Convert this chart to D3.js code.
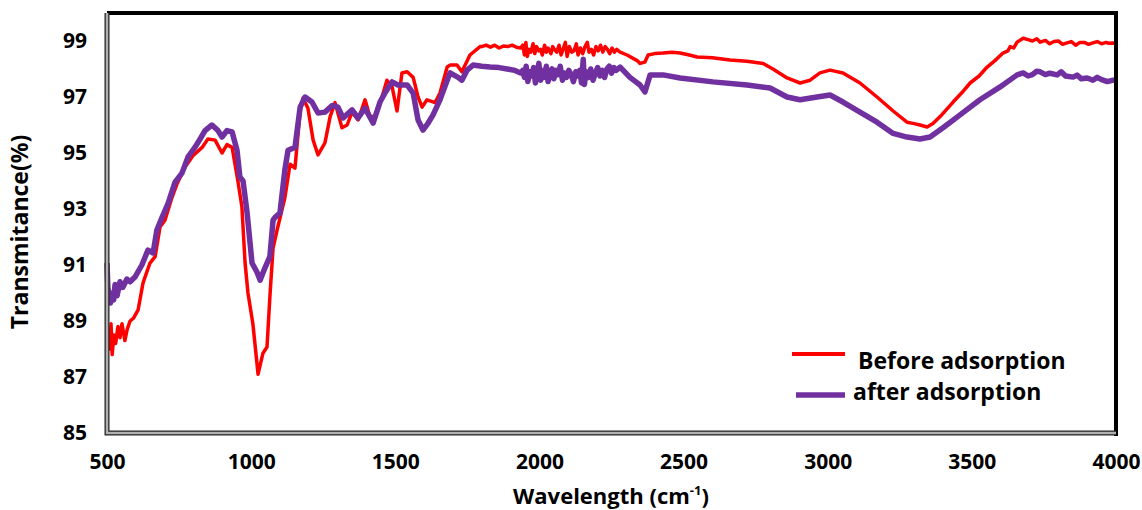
<!DOCTYPE html>
<html>
<head>
<meta charset="utf-8">
<script src="https://cdn.jsdelivr.net/npm/d3@7"></script>
<style>
  body { margin: 0; background: #fff; }
  text { font-family: "Open Sans", sans-serif; font-weight: bold; fill: #000; }
</style>
</head>
<body>
<svg id="chart" width="1142" height="510"></svg>
<script>
// wavenumber (cm-1), transmittance (%)
var before = [
  [500, 88.1], [505, 88.6], [510, 88.0], [514, 88.9], [518, 87.8], [524, 88.5], [530, 88.2],
  [538, 88.8], [545, 88.4], [552, 88.9], [562, 88.3], [570, 88.7], [580, 89.0], [592, 89.1],
  [608, 89.4], [625, 90.36], [649, 91.07], [667, 91.3], [684, 92.36], [701, 92.6], [725, 93.4],
  [743, 93.9], [771, 94.5], [798, 94.9], [830, 95.2], [850, 95.5], [875, 95.46], [899, 95.0],
  [916, 95.3], [934, 95.2], [954, 94.0], [968, 93.07], [979, 91.07], [989, 90.0], [1006, 88.9],
  [1024, 87.1], [1041, 87.85], [1055, 88.07], [1065, 89.86], [1076, 91.6], [1090, 92.25],
  [1117, 93.4], [1135, 94.6], [1152, 94.46], [1170, 96.5], [1180, 96.96], [1197, 96.6],
  [1215, 95.46], [1232, 94.93], [1256, 95.36], [1274, 96.3], [1291, 96.8], [1315, 95.9],
  [1333, 96.0], [1350, 96.46], [1371, 96.18], [1395, 96.9], [1412, 96.3], [1430, 96.3],
  [1454, 97.0], [1471, 97.6], [1489, 97.36], [1506, 96.5], [1523, 97.86], [1541, 97.9],
  [1562, 97.7], [1579, 97.0], [1593, 96.64], [1610, 96.9], [1638, 96.8], [1655, 97.14],
  [1680, 98.07], [1690, 98.14], [1714, 98.14], [1731, 97.9], [1759, 98.5], [1794, 98.8],
  [1800, 98.8], [1815, 98.85], [1830, 98.78], [1845, 98.85], [1860, 98.75], [1875, 98.82],
  [1890, 98.8], [1905, 98.85], [1920, 98.78], [1935, 98.75],
  [1942, 98.85], [1948, 98.5], [1953, 98.95], [1958, 98.45], [1964, 98.7], [1970, 98.6],
  [1978, 98.9], [1984, 98.55], [1990, 98.8], [1998, 98.65], [2004, 98.7], [2010, 98.5],
  [2018, 98.85], [2024, 98.6], [2030, 98.75], [2040, 98.55], [2046, 98.8], [2052, 98.7],
  [2060, 98.6], [2068, 98.85], [2075, 98.5], [2082, 98.7], [2090, 98.95], [2096, 98.45],
  [2104, 98.8], [2112, 98.6], [2120, 98.65], [2128, 98.9], [2134, 98.5], [2142, 98.75],
  [2150, 98.55], [2158, 98.8], [2166, 98.95], [2172, 98.6], [2180, 98.7], [2188, 98.5],
  [2196, 98.8], [2204, 98.65], [2212, 98.85], [2220, 98.6], [2228, 98.8], [2236, 98.7],
  [2244, 98.55], [2252, 98.75], [2260, 98.6], [2268, 98.7], [2280, 98.6],
  [2304, 98.5], [2339, 98.3], [2349, 98.2], [2366, 98.25], [2377, 98.5], [2400, 98.55],
  [2429, 98.57], [2460, 98.6], [2488, 98.57], [2520, 98.5], [2547, 98.43], [2600, 98.4],
  [2661, 98.32], [2720, 98.28], [2776, 98.2], [2810, 98.0], [2859, 97.68], [2904, 97.5],
  [2939, 97.6], [2973, 97.86], [3008, 97.96], [3053, 97.86], [3112, 97.5], [3171, 97.0],
  [3227, 96.5], [3275, 96.1], [3300, 96.05], [3320, 96.0], [3345, 95.93], [3365, 96.05],
  [3390, 96.3], [3435, 96.82], [3465, 97.15], [3494, 97.5], [3525, 97.75], [3553, 98.07],
  [3580, 98.3], [3608, 98.57], [3625, 98.65], [3633, 98.8], [3645, 98.75], [3657, 98.96],
  [3678, 99.1], [3695, 99.05], [3710, 99.0], [3725, 99.08], [3737, 98.96], [3755, 99.02],
  [3770, 98.9], [3785, 98.98], [3800, 99.0], [3815, 98.88], [3830, 98.93], [3845, 98.98],
  [3860, 98.85], [3875, 98.95], [3890, 98.95], [3905, 98.88], [3920, 98.93], [3935, 98.98],
  [3950, 98.9], [3965, 98.95], [3975, 98.92], [3990, 98.93], [4000, 98.9]
];

var after = [
  [500, 91.07], [503, 90.2], [507, 89.9], [512, 89.64], [518, 90.0], [523, 89.75], [528, 90.3],
  [535, 89.9], [545, 90.4], [555, 90.2], [569, 90.5], [580, 90.4], [597, 90.57], [621, 91.0],
  [642, 91.53], [660, 91.43], [673, 92.25], [691, 92.7], [712, 93.2], [736, 93.96], [760, 94.28],
  [781, 94.86], [805, 95.2], [823, 95.5], [840, 95.8], [864, 96.0], [885, 95.8], [899, 95.57],
  [916, 95.8], [934, 95.75], [951, 95.1], [961, 94.14], [972, 94.0], [986, 92.86], [1003, 91.07],
  [1020, 90.75], [1031, 90.46], [1048, 90.9], [1065, 91.3], [1076, 92.6], [1083, 92.7],
  [1100, 92.86], [1117, 94.4], [1128, 95.1], [1152, 95.2], [1170, 96.64], [1187, 97.0],
  [1211, 96.82], [1232, 96.43], [1256, 96.46], [1281, 96.7], [1301, 96.64], [1319, 96.25],
  [1350, 96.54], [1371, 96.25], [1395, 96.6], [1423, 96.07], [1447, 96.82], [1464, 97.14],
  [1489, 97.54], [1509, 97.43], [1541, 97.43], [1562, 97.14], [1579, 96.18], [1596, 95.82],
  [1614, 96.07], [1631, 96.36], [1655, 96.9], [1683, 97.68], [1690, 97.86], [1718, 97.7],
  [1731, 97.6], [1749, 97.96], [1770, 98.14], [1800, 98.1], [1829, 98.07], [1860, 98.05],
  [1888, 98.0], [1915, 97.95], [1935, 97.86],
  [1942, 97.95], [1948, 97.7], [1954, 98.1], [1960, 97.55], [1966, 97.9], [1972, 97.75],
  [1980, 98.05], [1986, 97.5], [1992, 97.85], [1998, 98.2], [2004, 97.6], [2010, 97.95],
  [2016, 97.7], [2024, 98.1], [2030, 97.55], [2038, 97.9], [2044, 98.0], [2050, 97.65],
  [2058, 97.95], [2066, 97.8], [2072, 98.1], [2080, 97.6], [2088, 97.85], [2094, 97.7],
  [2102, 97.95], [2110, 97.8], [2118, 97.55], [2126, 97.9], [2132, 97.75], [2140, 97.95],
  [2146, 97.5], [2152, 98.35], [2156, 97.45], [2162, 97.9], [2170, 97.7], [2178, 98.0],
  [2186, 97.6], [2194, 97.85], [2202, 98.05], [2210, 97.75], [2218, 97.95], [2226, 97.7],
  [2234, 98.0], [2242, 98.1], [2250, 97.85], [2258, 98.05], [2266, 97.95], [2280, 98.07],
  [2314, 97.7], [2349, 97.43], [2366, 97.18], [2384, 97.79], [2429, 97.79], [2488, 97.68],
  [2602, 97.54], [2720, 97.43], [2800, 97.32], [2859, 97.0], [2904, 96.9], [2963, 97.0],
  [3008, 97.07], [3053, 96.82], [3112, 96.46], [3171, 96.1], [3227, 95.7], [3275, 95.57],
  [3320, 95.5], [3355, 95.57], [3400, 95.9], [3459, 96.36], [3528, 96.9], [3598, 97.36],
  [3657, 97.79], [3678, 97.86], [3695, 97.75], [3710, 97.8], [3725, 97.92], [3737, 97.9],
  [3755, 97.8], [3770, 97.85], [3796, 97.79], [3810, 97.9], [3825, 97.75], [3851, 97.71],
  [3865, 97.78], [3880, 97.65], [3900, 97.68], [3920, 97.6], [3935, 97.7], [3950, 97.62],
  [3970, 97.55], [3990, 97.6], [4000, 97.6]
];

var xTicks = [500, 1000, 1500, 2000, 2500, 3000, 3500, 4000];
var yTicks = [85, 87, 89, 91, 93, 95, 97, 99];

var seriesNames  = ["Before adsorption", "after adsorption"];
var seriesColors = ["#ff0000", "#7030a0"];

var svg = d3.select("#chart");

// plot box (window.top is read-only, so keep these names distinct)
var plotLeft = 107, plotRight = 1116, plotTop = 13, plotBottom = 433;

var x = d3.scaleLinear().domain([500, 4000]).range([plotLeft, plotRight]);
var y = d3.scaleLinear().domain([85, 100]).range([plotBottom, plotTop]);

var line = d3.line()
  .x(function (d) { return x(d[0]); })
  .y(function (d) { return y(d[1]); });

// series, purple drawn last so it sits on top
svg.append("path")
  .datum(before)
  .attr("fill", "none")
  .attr("stroke", seriesColors[0])
  .attr("stroke-width", 3.5)
  .attr("stroke-linejoin", "round")
  .attr("d", line);

svg.append("path")
  .datum(after)
  .attr("fill", "none")
  .attr("stroke", seriesColors[1])
  .attr("stroke-width", 5.5)
  .attr("stroke-linejoin", "round")
  .attr("d", line);

// frame: black top/right, shaded left/bottom
svg.append("path")
  .attr("d", "M" + plotLeft + "," + plotTop + "H" + plotRight + "V" + (plotBottom + 3))
  .attr("fill", "none")
  .attr("stroke", "#000")
  .attr("stroke-width", 4);

var lb = "M" + plotLeft + "," + plotTop + "V" + plotBottom + "H" + plotRight;
svg.append("path").attr("d", lb).attr("fill", "none").attr("stroke", "#222").attr("stroke-width", 5);
svg.append("path").attr("d", lb).attr("fill", "none").attr("stroke", "#b0b0b0").attr("stroke-width", 2.5);

// axes (labels only, no tick marks)
var yAxis = d3.axisLeft(y).tickValues(yTicks).tickSize(0).tickPadding(20).tickFormat(d3.format("d"));
var gy = svg.append("g").attr("transform", "translate(" + plotLeft + ",0)").call(yAxis);
gy.select(".domain").remove();
gy.selectAll("text").style("font-size", "21px");

var xAxis = d3.axisBottom(x).tickValues(xTicks).tickSize(0).tickPadding(21).tickFormat(d3.format("d"));
var gx = svg.append("g").attr("transform", "translate(0," + plotBottom + ")").call(xAxis);
gx.select(".domain").remove();
gx.selectAll("text").style("font-size", "21px");

// axis titles
svg.append("text")
  .attr("transform", "translate(28," + 232 + ") rotate(-90)")
  .attr("text-anchor", "middle")
  .style("font-size", "23px")
  .text("Transmitance(%)");

var xt = svg.append("text")
  .attr("x", 611)
  .attr("y", 504)
  .attr("text-anchor", "middle")
  .style("font-size", "22px");
xt.append("tspan").text("Wavelength (cm");
xt.append("tspan").attr("dy", -9).style("font-size", "13px").text("-1");
xt.append("tspan").attr("dy", 9).text(")");

// legend
var legendRows = [
  { x1: 792, x2: 845, y: 354, tx: 858, ty: 369, w: 4 },
  { x1: 796, x2: 845, y: 395, tx: 853, ty: 400, w: 5.5 }
];
legendRows.forEach(function (r, i) {
  svg.append("line")
    .attr("x1", r.x1).attr("x2", r.x2)
    .attr("y1", r.y).attr("y2", r.y)
    .attr("stroke", seriesColors[i])
    .attr("stroke-width", r.w);
  svg.append("text")
    .attr("x", r.tx).attr("y", r.ty)
    .style("font-size", "23px")
    .text(seriesNames[i]);
});
</script>
</body>
</html>
